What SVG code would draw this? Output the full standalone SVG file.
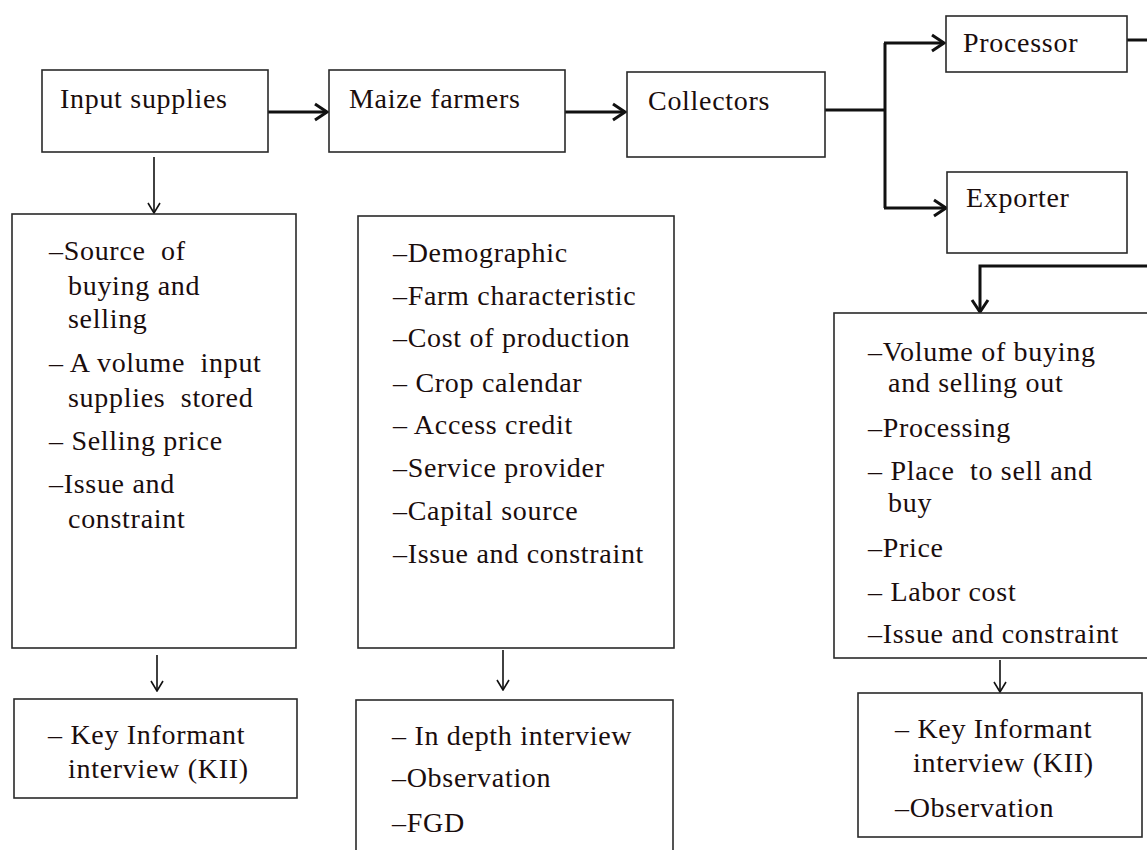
<svg xmlns="http://www.w3.org/2000/svg" width="1147" height="850" viewBox="0 0 1147 850">
  <style>
    .box { fill: #ffffff; stroke: #2a2a2a; stroke-width: 1.6; }
    .lbl { font-family: "Liberation Serif", "Times New Roman", serif; font-size: 28px; letter-spacing: 0.7px; fill: #1a0d0d; white-space: pre; }
    .thick { fill: none; stroke: #111111; stroke-width: 3; }
    .thin { fill: none; stroke: #111111; stroke-width: 1.6; }
  </style>
  <defs>
    <marker id="arrowBig" markerUnits="userSpaceOnUse" viewBox="0 0 16 20" markerWidth="16" markerHeight="20" refX="14" refY="10" orient="auto">
      <path d="M2,2 L14,10 L2,18" fill="none" stroke="#111111" stroke-width="3"/>
    </marker>
    <marker id="arrowSmall" markerUnits="userSpaceOnUse" viewBox="0 0 12 14" markerWidth="12" markerHeight="14" refX="11" refY="7" orient="auto">
      <path d="M1,1 L11,7 L1,13" fill="none" stroke="#111111" stroke-width="1.6"/>
    </marker>
  </defs>

  <rect width="1147" height="850" fill="#ffffff"/>

  <!-- connectors -->
  <g id="connectors">
    <line class="thick" x1="268" y1="112" x2="327" y2="112" marker-end="url(#arrowBig)"/>
    <line class="thick" x1="565" y1="112" x2="625" y2="112" marker-end="url(#arrowBig)"/>
    <path class="thick" d="M825,110 H885"/>
    <path class="thick" d="M885,43 V208"/>
    <path class="thick" d="M884,43 H944" marker-end="url(#arrowBig)"/>
    <path class="thick" d="M884,208 H946" marker-end="url(#arrowBig)"/>
    <path class="thick" d="M1127,40 H1150"/>
    <path class="thick" d="M1150,266 H980 V312" marker-end="url(#arrowBig)"/>
    <line class="thin" x1="154" y1="157" x2="154" y2="213" marker-end="url(#arrowSmall)"/>
    <line class="thin" x1="157" y1="655" x2="157" y2="691" marker-end="url(#arrowSmall)"/>
    <line class="thin" x1="503" y1="650" x2="503" y2="690" marker-end="url(#arrowSmall)"/>
    <line class="thin" x1="1000" y1="660" x2="1000" y2="692" marker-end="url(#arrowSmall)"/>
  </g>

  <!-- value chain actors -->
  <g id="input-supplies">
    <rect class="box" x="42" y="70" width="226" height="82"/>
    <text class="lbl" x="60" y="108">Input supplies</text>
  </g>
  <g id="maize-farmers">
    <rect class="box" x="329" y="70" width="236" height="82"/>
    <text class="lbl" x="349" y="108">Maize farmers</text>
  </g>
  <g id="collectors">
    <rect class="box" x="627" y="72" width="198" height="85"/>
    <text class="lbl" x="648" y="110">Collectors</text>
  </g>
  <g id="processor">
    <rect class="box" x="946" y="16" width="181" height="56"/>
    <text class="lbl" x="963" y="52">Processor</text>
  </g>
  <g id="exporter">
    <rect class="box" x="947" y="172" width="180" height="81"/>
    <text class="lbl" x="966" y="207">Exporter</text>
  </g>

  <!-- information collected at each stage -->
  <g id="input-topics">
    <rect class="box" x="12" y="214" width="284" height="434"/>
    <text class="lbl" x="49" y="260">–Source  of</text>
    <text class="lbl" x="68" y="295">buying and</text>
    <text class="lbl" x="68" y="328">selling</text>
    <text class="lbl" x="49" y="372">– A volume  input</text>
    <text class="lbl" x="68" y="407">supplies  stored</text>
    <text class="lbl" x="49" y="450">– Selling price</text>
    <text class="lbl" x="49" y="493">–Issue and</text>
    <text class="lbl" x="68" y="528">constraint</text>
  </g>
  <g id="farmer-topics">
    <rect class="box" x="358" y="216" width="316" height="432"/>
    <text class="lbl" x="393" y="262">–Demographic</text>
    <text class="lbl" x="393" y="305">–Farm characteristic</text>
    <text class="lbl" x="393" y="347">–Cost of production</text>
    <text class="lbl" x="393" y="392">– Crop calendar</text>
    <text class="lbl" x="393" y="434">– Access credit</text>
    <text class="lbl" x="393" y="477">–Service provider</text>
    <text class="lbl" x="393" y="520">–Capital source</text>
    <text class="lbl" x="393" y="563">–Issue and constraint</text>
  </g>
  <g id="trader-topics">
    <rect class="box" x="834" y="313" width="320" height="345"/>
    <text class="lbl" x="868" y="361">–Volume of buying</text>
    <text class="lbl" x="888" y="392">and selling out</text>
    <text class="lbl" x="868" y="437">–Processing</text>
    <text class="lbl" x="868" y="480">– Place  to sell and</text>
    <text class="lbl" x="888" y="512">buy</text>
    <text class="lbl" x="868" y="557">–Price</text>
    <text class="lbl" x="868" y="601">– Labor cost</text>
    <text class="lbl" x="868" y="643">–Issue and constraint</text>
  </g>

  <!-- data collection methods -->
  <g id="input-methods">
    <rect class="box" x="14" y="699" width="283" height="99"/>
    <text class="lbl" x="48" y="744">– Key Informant</text>
    <text class="lbl" x="68" y="778">interview (KII)</text>
  </g>
  <g id="farmer-methods">
    <rect class="box" x="356" y="700" width="317" height="160"/>
    <text class="lbl" x="392" y="745">– In depth interview</text>
    <text class="lbl" x="392" y="787">–Observation</text>
    <text class="lbl" x="392" y="832">–FGD</text>
  </g>
  <g id="trader-methods">
    <rect class="box" x="858" y="693" width="284" height="144"/>
    <text class="lbl" x="895" y="738">– Key Informant</text>
    <text class="lbl" x="913" y="772">interview (KII)</text>
    <text class="lbl" x="895" y="817">–Observation</text>
  </g>
</svg>
